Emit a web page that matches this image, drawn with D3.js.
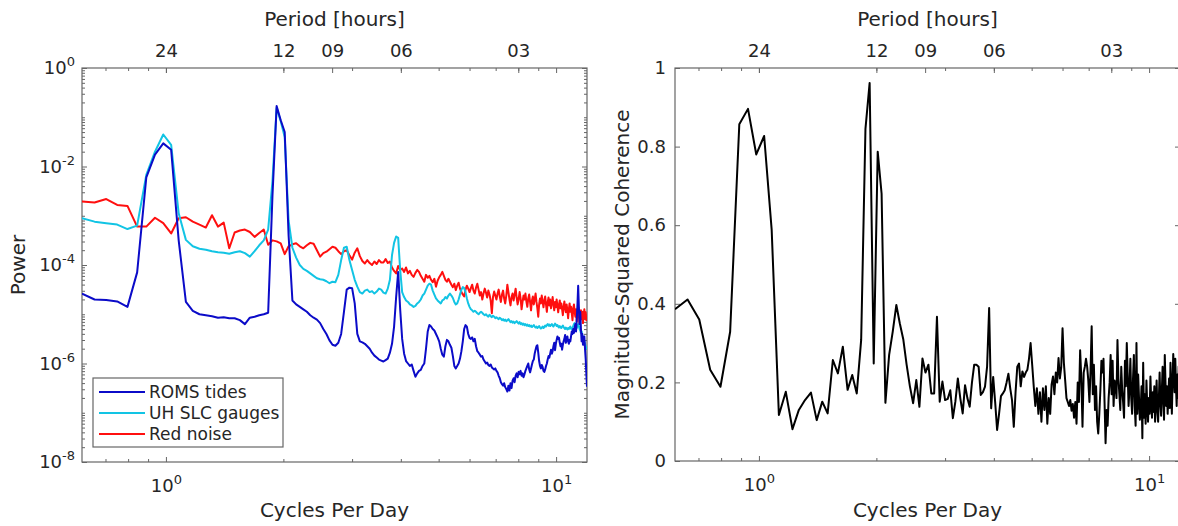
<!DOCTYPE html>
<html>
<head>
<meta charset="utf-8">
<script src="https://cdn.jsdelivr.net/npm/d3@7"></script>
<style>
  body { margin: 0; background: #fff; }
  svg text { font-family: "DejaVu Sans", sans-serif; fill: #262626; }
</style>
</head>
<body>
<svg width="1178" height="526"></svg>
<script>
// hourly series, 512-point FFT -> bins of 24/512 cycles per day, bins 13..256 shown
const binStep = 24 / 512;
const firstBin = 13;

const periodHours = [24, 12, 9, 6, 3];
const periodLabels = ["24", "12", "09", "06", "03"];
const seriesNames = ["ROMS tides", "UH SLC gauges", "Red noise"];

// log10(power) per bin
const romsTides = [
  -4.58,-4.70,-4.71,-4.74,-4.85,-4.15,-2.22,-1.76,-1.53,-1.66,
  -3.50,-4.75,-4.93,-5.00,-5.02,-5.04,-5.07,-5.06,-5.08,-5.08,
  -5.12,-5.20,-5.07,-5.05,-5.02,-5.00,-4.97,-2.60,-0.77,-1.06,
  -1.30,-3.40,-4.72,-4.80,-4.85,-4.90,-4.95,-5.02,-5.07,-5.11,
  -5.18,-5.30,-5.40,-5.53,-5.62,-5.64,-5.58,-5.40,-4.95,-4.50,
  -4.46,-4.47,-4.78,-5.40,-5.55,-5.57,-5.60,-5.65,-5.70,-5.78,
  -5.84,-5.88,-5.92,-5.94,-5.96,-5.93,-5.90,-5.78,-5.60,-5.25,
  -4.65,-4.14,-4.90,-5.50,-5.80,-5.95,-6.00,-6.05,-6.02,-6.15,
  -6.27,-6.20,-6.15,-6.13,-6.05,-6.00,-5.70,-5.35,-5.22,-5.25,
  -5.30,-5.33,-5.40,-5.47,-5.55,-5.70,-5.82,-5.86,-5.65,-5.52,
  -5.55,-5.62,-5.68,-5.85,-6.05,-6.10,-6.05,-6.00,-5.90,-5.75,
  -5.55,-5.30,-5.22,-5.25,-5.40,-5.48,-5.50,-5.47,-5.55,-5.50,
  -5.65,-5.75,-5.78,-5.82,-5.86,-5.85,-5.92,-5.96,-6.00,-5.98,
  -6.03,-6.05,-6.02,-6.08,-6.10,-6.12,-6.10,-6.15,-6.18,-6.25,
  -6.30,-6.38,-6.42,-6.45,-6.40,-6.48,-6.52,-6.57,-6.45,-6.55,
  -6.40,-6.50,-6.35,-6.30,-6.38,-6.25,-6.20,-6.28,-6.17,-6.22,
  -6.15,-6.25,-6.20,-6.28,-6.22,-6.15,-6.10,-6.05,-6.00,-6.12,
  -6.18,-6.10,-6.02,-5.95,-5.92,-5.80,-5.72,-5.65,-5.63,-5.78,
  -5.95,-6.05,-6.10,-6.03,-6.07,-6.15,-6.17,-6.12,-6.05,-6.00,
  -5.92,-5.85,-5.88,-5.80,-5.72,-5.80,-5.75,-5.65,-5.58,-5.73,
  -5.60,-5.52,-5.45,-5.50,-5.48,-5.58,-5.65,-5.60,-5.72,-5.62,
  -5.55,-5.50,-5.42,-5.58,-5.50,-5.45,-5.55,-5.60,-5.52,-5.55,
  -5.45,-5.35,-5.40,-5.30,-5.38,-5.28,-5.20,-5.35,-5.10,-4.80,
  -4.42,-4.85,-5.20,-4.95,-5.30,-5.55,-5.40,-5.62,-5.50,-5.45,
  -5.70,-5.90,-6.20,-6.47
];
const uhGauges = [
  -3.05,-3.12,-3.15,-3.18,-3.27,-3.20,-2.17,-1.70,-1.35,-1.56,
  -2.95,-3.49,-3.62,-3.67,-3.69,-3.72,-3.74,-3.75,-3.77,-3.74,
  -3.72,-3.76,-3.83,-3.72,-3.60,-3.50,-3.28,-2.30,-0.81,-1.08,
  -1.40,-3.10,-3.65,-3.85,-4.00,-4.08,-4.12,-4.17,-4.22,-4.27,
  -4.29,-4.30,-4.33,-4.37,-4.34,-4.35,-4.20,-3.90,-3.65,-3.63,
  -3.90,-4.10,-4.30,-4.44,-4.55,-4.58,-4.52,-4.50,-4.55,-4.53,
  -4.58,-4.54,-4.48,-4.50,-4.56,-4.58,-4.48,-4.30,-3.80,-3.55,
  -3.42,-3.45,-4.10,-4.55,-4.65,-4.72,-4.75,-4.80,-4.82,-4.85,
  -4.83,-4.78,-4.75,-4.70,-4.62,-4.58,-4.50,-4.42,-4.38,-4.40,
  -4.52,-4.60,-4.68,-4.72,-4.75,-4.78,-4.72,-4.70,-4.65,-4.68,
  -4.62,-4.58,-4.62,-4.67,-4.75,-4.80,-4.78,-4.70,-4.60,-4.50,
  -4.45,-4.47,-4.55,-4.68,-4.78,-4.85,-4.90,-4.92,-4.95,-4.93,
  -4.95,-4.98,-5.00,-4.97,-4.95,-4.97,-5.00,-5.02,-5.00,-5.03,
  -5.05,-5.01,-5.04,-5.06,-5.03,-5.05,-5.08,-5.06,-5.08,-5.10,
  -5.07,-5.09,-5.12,-5.10,-5.13,-5.11,-5.14,-5.12,-5.10,-5.13,
  -5.16,-5.14,-5.17,-5.15,-5.18,-5.16,-5.14,-5.17,-5.19,-5.16,
  -5.20,-5.18,-5.21,-5.19,-5.22,-5.20,-5.23,-5.21,-5.24,-5.22,
  -5.25,-5.23,-5.26,-5.24,-5.22,-5.25,-5.27,-5.25,-5.28,-5.26,
  -5.24,-5.27,-5.29,-5.27,-5.25,-5.28,-5.26,-5.23,-5.25,-5.22,
  -5.20,-5.23,-5.21,-5.24,-5.22,-5.20,-5.23,-5.25,-5.22,-5.19,
  -5.21,-5.24,-5.22,-5.25,-5.27,-5.24,-5.26,-5.28,-5.25,-5.23,
  -5.26,-5.28,-5.30,-5.27,-5.29,-5.31,-5.28,-5.30,-5.27,-5.25,
  -5.29,-5.31,-5.28,-5.24,-5.20,-5.18,-5.22,-5.25,-5.28,-5.23,
  -5.20,-5.24,-5.30,-5.33,-5.38,-5.35,-5.42,-5.48,-5.50,-5.55,
  -5.60,-5.65,-5.70,-5.70
];
const redNoise = [
  -2.71,-2.73,-2.66,-2.78,-2.80,-3.22,-3.22,-3.04,-3.15,-3.36,
  -3.05,-3.03,-3.12,-3.18,-3.24,-2.99,-3.22,-3.14,-3.66,-3.34,
  -3.30,-3.28,-3.33,-3.43,-3.35,-3.28,-3.59,-3.50,-3.52,-3.56,
  -3.78,-3.62,-3.58,-3.56,-3.62,-3.66,-3.60,-3.55,-3.57,-3.70,
  -3.83,-3.76,-3.73,-3.68,-3.63,-3.65,-3.72,-3.78,-3.72,-3.70,
  -3.80,-3.89,-3.75,-3.66,-3.82,-3.92,-3.97,-3.90,-3.96,-4.00,
  -3.93,-3.98,-3.90,-3.95,-3.95,-3.88,-3.96,-3.93,-4.05,-4.12,
  -4.17,-4.02,-4.10,-4.07,-4.14,-4.05,-4.17,-4.12,-4.20,-4.24,
  -4.16,-4.10,-4.14,-4.22,-4.28,-4.34,-4.20,-4.26,-4.22,-4.30,
  -4.35,-4.28,-4.44,-4.32,-4.25,-4.20,-4.14,-4.22,-4.30,-4.34,
  -4.28,-4.34,-4.40,-4.45,-4.38,-4.51,-4.42,-4.36,-4.48,-4.55,
  -4.60,-4.64,-4.50,-4.42,-4.48,-4.55,-4.47,-4.40,-4.52,-4.58,
  -4.46,-4.38,-4.50,-4.62,-4.55,-4.70,-4.58,-4.48,-4.56,-4.66,
  -4.52,-4.60,-4.72,-4.98,-4.65,-4.54,-4.62,-4.70,-4.58,-4.50,
  -4.64,-4.75,-4.60,-4.52,-4.68,-4.78,-4.62,-4.40,-4.55,-4.70,
  -4.82,-4.65,-4.58,-4.72,-4.60,-4.48,-4.66,-4.80,-4.70,-4.55,
  -4.68,-4.90,-4.75,-4.62,-4.70,-4.58,-4.74,-4.85,-4.68,-4.60,
  -4.76,-4.92,-4.72,-4.64,-4.80,-4.70,-4.58,-4.75,-4.88,-5.05,
  -4.80,-4.68,-4.78,-4.62,-4.74,-4.86,-4.72,-4.64,-4.80,-4.95,
  -4.76,-4.66,-4.82,-4.70,-4.88,-4.78,-4.65,-4.80,-4.92,-4.75,
  -4.86,-4.70,-4.84,-4.96,-4.80,-4.72,-4.88,-4.78,-4.90,-5.02,
  -4.85,-4.74,-4.88,-4.96,-4.80,-4.92,-5.08,-4.90,-4.78,-4.95,
  -4.85,-4.98,-5.12,-4.88,-4.80,-4.95,-5.05,-4.90,-5.15,-4.98,
  -4.85,-5.00,-5.20,-5.05,-4.92,-5.10,-4.95,-5.18,-5.02,-4.90,
  -5.08,-4.96,-5.12,-5.05
];
// magnitude-squared coherence per bin
const coherence = [
  0.386,0.411,0.360,0.232,0.189,0.329,0.857,0.896,0.780,0.827,
  0.588,0.117,0.176,0.081,0.130,0.155,0.174,0.104,0.151,0.121,
  0.257,0.223,0.291,0.181,0.219,0.172,0.308,0.845,0.962,0.248,
  0.787,0.680,0.148,0.270,0.330,0.397,0.350,0.310,0.245,0.190,
  0.147,0.206,0.138,0.261,0.225,0.245,0.172,0.172,0.367,0.151,
  0.202,0.155,0.158,0.180,0.109,0.151,0.210,0.160,0.121,0.193,
  0.160,0.138,0.200,0.245,0.245,0.240,0.168,0.175,0.189,0.240,
  0.389,0.134,0.214,0.150,0.079,0.120,0.165,0.172,0.180,0.200,
  0.222,0.185,0.155,0.087,0.175,0.240,0.248,0.190,0.228,0.214,
  0.225,0.232,0.260,0.300,0.245,0.189,0.140,0.185,0.120,0.175,
  0.100,0.185,0.130,0.190,0.095,0.160,0.120,0.195,0.215,0.170,
  0.225,0.200,0.262,0.210,0.238,0.338,0.250,0.205,0.160,0.150,
  0.140,0.155,0.128,0.145,0.110,0.150,0.095,0.200,0.150,0.282,
  0.210,0.087,0.225,0.240,0.260,0.240,0.205,0.150,0.230,0.343,
  0.170,0.245,0.130,0.190,0.100,0.070,0.120,0.180,0.255,0.225,
  0.260,0.150,0.045,0.130,0.090,0.160,0.200,0.270,0.170,0.255,
  0.140,0.205,0.190,0.160,0.308,0.210,0.170,0.130,0.240,0.180,
  0.150,0.110,0.255,0.190,0.300,0.220,0.140,0.185,0.260,0.160,
  0.120,0.210,0.270,0.140,0.090,0.300,0.120,0.220,0.160,0.105,
  0.130,0.190,0.058,0.250,0.110,0.170,0.095,0.205,0.140,0.100,
  0.160,0.120,0.215,0.150,0.110,0.175,0.125,0.190,0.100,0.145,
  0.205,0.130,0.100,0.160,0.225,0.150,0.115,0.180,0.240,0.155,
  0.105,0.270,0.200,0.140,0.190,0.120,0.165,0.210,0.135,0.250,
  0.180,0.120,0.200,0.272,0.230,0.175,0.260,0.190,0.140,0.220,
  0.160,0.240,0.180,0.200
];

const cpd = romsTides.map((_, i) => (firstBin + i) * binStep);

const svg = d3.select("svg");
const axisColor = "#666";
const colors = ["#0b0bc8", "#12c4e4", "#ff0f0f"];

const leftBox = {x0: 82, x1: 587, y0: 68, y1: 462};
const rightBox = {x0: 675, x1: 1180, y0: 68, y1: 461};

const xMinor = [0.7, 0.8, 0.9, 2, 3, 4, 5, 6, 7, 8, 9];
const xMajor = [1, 10];

function tickRow(g, axisFn, scale, values, size, pos, pad, fmt) {
  const a = g.append("g")
    .attr("transform", pos)
    .call(axisFn(scale).tickValues(values).tickSizeInner(size).tickSizeOuter(0)
      .tickPadding(pad).tickFormat(fmt || (() => "")));
  a.select(".domain").remove();
  a.selectAll(".tick line").attr("stroke", axisColor);
  a.selectAll(".tick text").style("font-size", "18px");
  return a;
}

// replace "1e-4" style labels with 10 + superscript exponent
function powerLabels(a) {
  a.selectAll(".tick text").each(function (d) {
    const t = d3.select(this).text(null);
    t.append("tspan").text("10");
    t.append("tspan").attr("dy", "-0.6em").style("font-size", "13px")
      .text(String(Math.round(Math.log10(d))));
  });
}

function frame(box, x, title) {
  const g = svg.append("g");
  // bottom axis
  tickRow(g, d3.axisBottom, x, xMinor, -3, `translate(0,${box.y1})`, 0);
  const b = tickRow(g, d3.axisBottom, x, xMajor, -5, `translate(0,${box.y1})`, 17, d => d);
  powerLabels(b);
  // top: mirrored minor/major ticks plus period ticks
  tickRow(g, d3.axisTop, x, xMinor, -3, `translate(0,${box.y0})`, 0);
  tickRow(g, d3.axisTop, x, xMajor, -5, `translate(0,${box.y0})`, 0);
  tickRow(g, d3.axisTop, x, periodHours.map(h => 24 / h), -5, `translate(0,${box.y0})`, 11,
    (d, i) => periodLabels[i]);

  g.append("rect")
    .attr("x", box.x0).attr("y", box.y0)
    .attr("width", box.x1 - box.x0).attr("height", box.y1 - box.y0)
    .attr("fill", "none").attr("stroke", axisColor).attr("stroke-width", 1.2);

  g.append("text")
    .attr("x", (box.x0 + box.x1) / 2).attr("y", 26)
    .attr("text-anchor", "middle").style("font-size", "20px")
    .text("Period [hours]");
  g.append("text")
    .attr("x", (box.x0 + box.x1) / 2).attr("y", 517)
    .attr("text-anchor", "middle").style("font-size", "20px")
    .text("Cycles Per Day");
  g.append("text")
    .attr("transform", `translate(${title.x},${(box.y0 + box.y1) / 2}) rotate(-90)`)
    .attr("text-anchor", "middle").style("font-size", "20px")
    .text(title.text);
  return g;
}

function clipFor(id, box) {
  svg.append("clipPath").attr("id", id)
    .append("rect")
    .attr("x", box.x0).attr("y", box.y0)
    .attr("width", box.x1 - box.x0).attr("height", box.y1 - box.y0);
  return `url(#${id})`;
}

/* ---- left panel: power spectra ---- */
const xL = d3.scaleLog().domain([cpd[0], cpd[cpd.length - 1]]).range([leftBox.x0, leftBox.x1]);
const yL = d3.scaleLog().domain([1e-8, 1]).range([leftBox.y1, leftBox.y0]);

const gL = frame(leftBox, xL, {x: 25, text: "Power"});
const yMajorL = [1e-8, 1e-6, 1e-4, 1e-2, 1];
const yMinorL = [];
for (let e = -8; e < 0; e++) {
  for (let m = 1; m <= 9; m++) {
    if (m === 1 && e % 2 === 0) continue;
    yMinorL.push(m * Math.pow(10, e));
  }
}
tickRow(gL, d3.axisLeft, yL, yMinorL, -3, `translate(${leftBox.x0},0)`, 0);
powerLabels(tickRow(gL, d3.axisLeft, yL, yMajorL, -5, `translate(${leftBox.x0},0)`, 7, d => d));
tickRow(gL, d3.axisRight, yL, yMinorL, -3, `translate(${leftBox.x1},0)`, 0);
tickRow(gL, d3.axisRight, yL, yMajorL, -5, `translate(${leftBox.x1},0)`, 0);

const lineL = d3.line()
  .x((d, i) => xL(cpd[i]))
  .y(d => yL(Math.pow(10, d)));

const clipL = clipFor("clipL", leftBox);
const spectra = [romsTides, uhGauges, redNoise];
// red drawn first, blue on top
[2, 1, 0].forEach(s => {
  svg.append("path")
    .datum(spectra[s])
    .attr("clip-path", clipL)
    .attr("fill", "none")
    .attr("stroke", colors[s])
    .attr("stroke-width", 2)
    .attr("stroke-linejoin", "round")
    .attr("d", lineL);
});

// legend
const legend = svg.append("g").attr("transform", "translate(93,378)");
legend.append("rect")
  .attr("width", 190).attr("height", 69)
  .attr("fill", "#fff").attr("stroke", axisColor).attr("stroke-width", 1.2);
seriesNames.forEach((name, i) => {
  const cy = 14 + i * 21;
  legend.append("line")
    .attr("x1", 6).attr("x2", 52).attr("y1", cy).attr("y2", cy)
    .attr("stroke", colors[i]).attr("stroke-width", 2);
  legend.append("text")
    .attr("x", 56).attr("y", cy + 6)
    .style("font-size", "17px")
    .text(name);
});

/* ---- right panel: coherence ---- */
const xR = d3.scaleLog().domain([cpd[0], cpd[cpd.length - 1]]).range([rightBox.x0, rightBox.x1]);
const yR = d3.scaleLinear().domain([0, 1]).range([rightBox.y1, rightBox.y0]);

const gR = frame(rightBox, xR, {x: 629, text: "Magnitude-Squared Coherence"});
const yTicksR = [0, 0.2, 0.4, 0.6, 0.8, 1];
tickRow(gR, d3.axisLeft, yR, yTicksR, -5, `translate(${rightBox.x0},0)`, 9, d => d === 0 || d === 1 ? d : d3.format(".1f")(d));
tickRow(gR, d3.axisRight, yR, yTicksR, -5, `translate(${rightBox.x1},0)`, 0);

svg.append("path")
  .datum(coherence)
  .attr("clip-path", clipFor("clipR", rightBox))
  .attr("fill", "none")
  .attr("stroke", "#000")
  .attr("stroke-width", 2)
  .attr("stroke-linejoin", "round")
  .attr("d", d3.line().x((d, i) => xR(cpd[i])).y(d => yR(d)));
</script>
</body>
</html>
